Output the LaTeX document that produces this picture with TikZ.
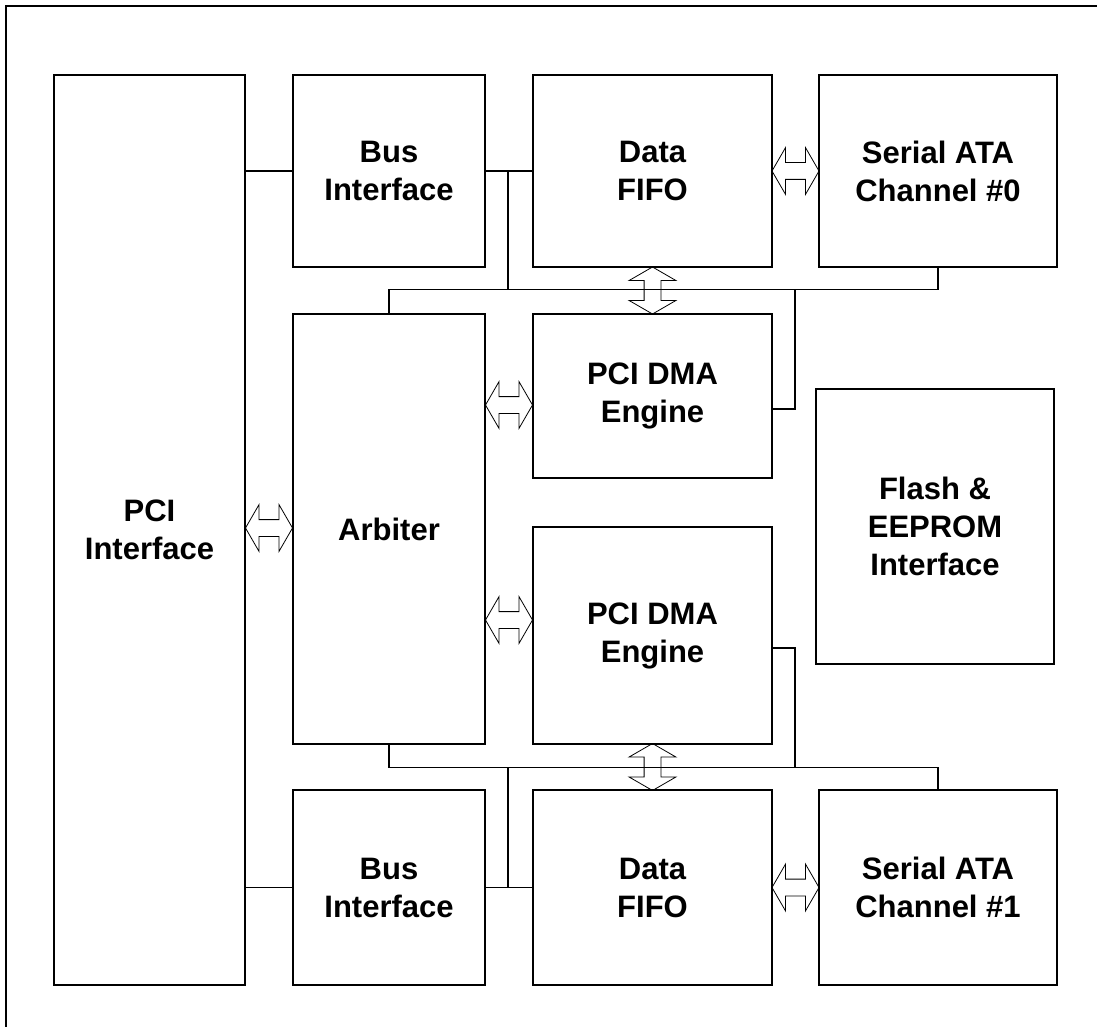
\documentclass[tikz,border=0pt]{standalone}
\usepackage{fontspec}
\setmainfont{Liberation Sans}
\usetikzlibrary{shapes.arrows}
\begin{document}
\begin{tikzpicture}[x=1pt, y=-1pt,
  blk/.style={draw, rectangle, line width=1.6pt, align=center, inner sep=0pt,
    font=\fontsize{31}{38}\selectfont\bfseries},
  dbl/.style={draw, double arrow, double arrow head extend=15pt, double arrow tip angle=120,
    text height=8pt, text depth=8pt, text width=0pt, inner sep=0pt,
    minimum width=46pt, minimum height=47pt, line width=0.8pt},
  wire/.style={line width=1.3pt}]
\useasboundingbox (0,0) rectangle (1097,1027);
% frame
\draw[line width=1.2pt] (6,1027) -- (6,6);
\draw[line width=2.4pt] (5,6) -- (1097,6);
% blocks
\node[blk, minimum width=191pt, minimum height=910pt] (pci) at (149.5,530) {PCI\\Interface};
\node[blk, minimum width=192pt, minimum height=192pt] (bus0) at (389,171) {Bus\\Interface};
\node[blk, minimum width=239pt, minimum height=192pt] (fifo0) at (652.5,171) {Data\\FIFO};
\node[blk, minimum width=238pt, minimum height=192pt] (sata0) at (938,171) {Serial ATA\\Channel \#0};
\node[blk, minimum width=192pt, minimum height=430pt] (arb) at (389,529) {Arbiter};
\node[blk, minimum width=239pt, minimum height=164pt] (dma0) at (652.5,396) {PCI DMA\\Engine};
\node[blk, minimum width=238pt, minimum height=275pt] (flash) at (935,526.5) {Flash \&\\EEPROM\\Interface};
\node[blk, minimum width=239pt, minimum height=217pt] (dma1) at (652.5,635.5) {PCI DMA\\Engine};
\node[blk, minimum width=192pt, minimum height=195pt] (bus1) at (389,887.5) {Bus\\Interface};
\node[blk, minimum width=239pt, minimum height=195pt] (fifo1) at (652.5,887.5) {Data\\FIFO};
\node[blk, minimum width=238pt, minimum height=195pt] (sata1) at (938,887.5) {Serial ATA\\Channel \#1};
% double arrows
\node[dbl] (a1) at (269,528) {};
\node[dbl] (a2) at (509,405) {};
\node[dbl] (a3) at (509,620) {};
\node[dbl] (a4) at (795.5,171) {};
\node[dbl] (a5) at (795.5,887.5) {};
\node[dbl, rotate=90] (a6) at (652.5,290.5) {};
\node[dbl, rotate=90] (a7) at (652.5,767) {};
% top wires
\draw[wire] (pci.east |- bus0.west) -- (bus0.west);
\draw[wire] (bus0.east) -- (fifo0.west);
\draw[wire] (arb.north) -- ++(0,-24) -| (sata0.south);
\draw[wire] (508,171) -- (508,290);
\draw[wire] (795,290) |- (dma0.east |- 0,409);
% bottom wires
\draw[wire] (pci.east |- bus1.west) -- (bus1.west);
\draw[wire] (bus1.east) -- (fifo1.west);
\draw[wire] (arb.south) -- ++(0,23) -| (sata1.north);
\draw[wire] (508,767) -- (508,887.5);
\draw[wire] (dma1.east |- 0,648) -| (795,767);
\end{tikzpicture}
\end{document}
